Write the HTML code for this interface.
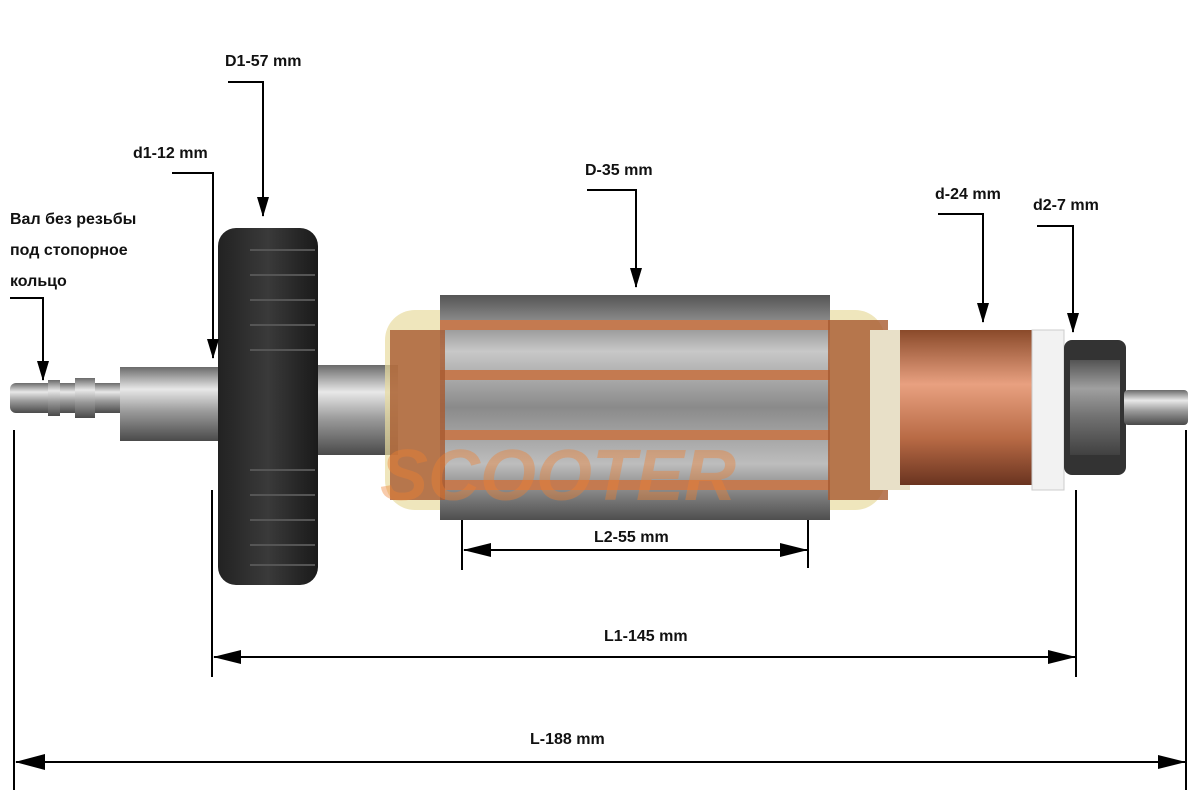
<!DOCTYPE html>
<html><head><meta charset="utf-8"><style>
html,body{margin:0;padding:0;background:#fff;}
svg{display:block}
text{font-family:"Liberation Sans","DejaVu Sans",sans-serif;font-weight:bold;font-size:16px;fill:#111}
</style></head><body>
<svg width="1200" height="800" viewBox="0 0 1200 800" xmlns="http://www.w3.org/2000/svg">
<defs>
<linearGradient id="steel" x1="0" y1="0" x2="0" y2="1">
<stop offset="0" stop-color="#6a6a6a"/><stop offset="0.3" stop-color="#e8e8e8"/><stop offset="0.6" stop-color="#9a9a9a"/><stop offset="1" stop-color="#4a4a4a"/></linearGradient>
<linearGradient id="core" x1="0" y1="0" x2="0" y2="1">
<stop offset="0" stop-color="#555"/><stop offset="0.25" stop-color="#c8c8c8"/><stop offset="0.5" stop-color="#8a8a8a"/><stop offset="0.75" stop-color="#bdbdbd"/><stop offset="1" stop-color="#4e4e4e"/></linearGradient>
<linearGradient id="cu" x1="0" y1="0" x2="0" y2="1">
<stop offset="0" stop-color="#8a4a2a"/><stop offset="0.35" stop-color="#e8a080"/><stop offset="0.7" stop-color="#b86a45"/><stop offset="1" stop-color="#6a3420"/></linearGradient>
<linearGradient id="fan" x1="0" y1="0" x2="1" y2="0">
<stop offset="0" stop-color="#222"/><stop offset="0.5" stop-color="#3a3a3a"/><stop offset="1" stop-color="#1a1a1a"/></linearGradient>
<marker id="ah" markerWidth="20" markerHeight="12" refX="19" refY="6" orient="auto" markerUnits="userSpaceOnUse"><path d="M0,0 L20,6 L0,12 Z" fill="#000"/></marker>
<marker id="ahb" markerWidth="28" markerHeight="14" refX="27" refY="7" orient="auto" markerUnits="userSpaceOnUse"><path d="M0,0 L28,7 L0,14 Z" fill="#000"/></marker>
</defs>

<rect x="10" y="383" width="120" height="30" rx="6" fill="url(#steel)"/>
<rect x="48" y="380" width="12" height="36" fill="url(#steel)"/>
<rect x="75" y="378" width="20" height="40" fill="url(#steel)"/>
<rect x="120" y="367" width="100" height="74" fill="url(#steel)"/>
<rect x="218" y="228" width="100" height="357" rx="18" fill="url(#fan)"/>
<g stroke="#555" stroke-width="2">
<line x1="250" y1="250" x2="315" y2="250"/><line x1="250" y1="275" x2="315" y2="275"/><line x1="250" y1="300" x2="315" y2="300"/><line x1="250" y1="325" x2="315" y2="325"/><line x1="250" y1="350" x2="315" y2="350"/><line x1="250" y1="470" x2="315" y2="470"/><line x1="250" y1="495" x2="315" y2="495"/><line x1="250" y1="520" x2="315" y2="520"/><line x1="250" y1="545" x2="315" y2="545"/><line x1="250" y1="565" x2="315" y2="565"/>
</g>
<rect x="318" y="365" width="80" height="90" fill="url(#steel)"/>
<rect x="385" y="310" width="500" height="200" rx="30" fill="#e8dca0" opacity="0.7"/>
<rect x="440" y="295" width="390" height="225" fill="url(#core)"/>
<g fill="#c47a50"><rect x="440" y="320" width="390" height="10"/><rect x="440" y="370" width="390" height="10"/><rect x="440" y="430" width="390" height="10"/><rect x="440" y="480" width="390" height="10"/></g>
<rect x="390" y="330" width="55" height="170" fill="#a85a30" opacity="0.8"/>
<rect x="828" y="320" width="60" height="180" fill="#a85a30" opacity="0.8"/>
<rect x="870" y="330" width="40" height="160" fill="#e8e0c8"/>
<rect x="900" y="330" width="135" height="155" fill="url(#cu)"/>
<rect x="1032" y="330" width="32" height="160" fill="#f2f2f2" stroke="#ccc"/>
<rect x="1064" y="340" width="62" height="135" rx="8" fill="#333"/>
<rect x="1070" y="360" width="50" height="95" fill="url(#steel)" opacity="0.6"/>
<rect x="1124" y="390" width="64" height="35" rx="4" fill="url(#steel)"/>

<text x="380" y="500" style="font-size:72px;fill:#f08030;opacity:0.4;font-style:italic">SCOOTER</text>

<g stroke="#000" stroke-width="2" fill="none">
<polyline points="228,82 263,82 263,216" marker-end="url(#ah)"/>
<polyline points="172,173 213,173 213,358" marker-end="url(#ah)"/>
<polyline points="10,298 43,298 43,380" marker-end="url(#ah)"/>
<polyline points="587,190 636,190 636,287" marker-end="url(#ah)"/>
<polyline points="938,214 983,214 983,322" marker-end="url(#ah)"/>
<polyline points="1037,226 1073,226 1073,332" marker-end="url(#ah)"/>
<line x1="462" y1="520" x2="462" y2="570"/><line x1="808" y1="520" x2="808" y2="568"/>
<line x1="464" y1="550" x2="807" y2="550" marker-end="url(#ahb)"/>
<line x1="212" y1="490" x2="212" y2="677"/><line x1="1076" y1="490" x2="1076" y2="677"/>
<line x1="214" y1="657" x2="1075" y2="657" marker-end="url(#ahb)"/>
<line x1="14" y1="430" x2="14" y2="790"/><line x1="1186" y1="430" x2="1186" y2="790"/>
<line x1="16" y1="762" x2="1185" y2="762" marker-end="url(#ahb)"/>
</g>
<g fill="#000">
<path d="M463,550 L491,543 L491,557 Z"/>
<path d="M213,657 L241,650 L241,664 Z"/>
<path d="M15,762 L45,754 L45,770 Z"/>
</g>
<text x="225" y="66">D1-57 mm</text>
<text x="133" y="158">d1-12 mm</text>
<text x="10" y="224">Вал без резьбы</text>
<text x="10" y="255">под стопорное</text>
<text x="10" y="286">кольцо</text>
<text x="585" y="175">D-35 mm</text>
<text x="935" y="199">d-24 mm</text>
<text x="1033" y="210">d2-7 mm</text>
<text x="594" y="542">L2-55 mm</text>
<text x="604" y="641">L1-145 mm</text>
<text x="530" y="744">L-188 mm</text>
</svg>
</body></html>
